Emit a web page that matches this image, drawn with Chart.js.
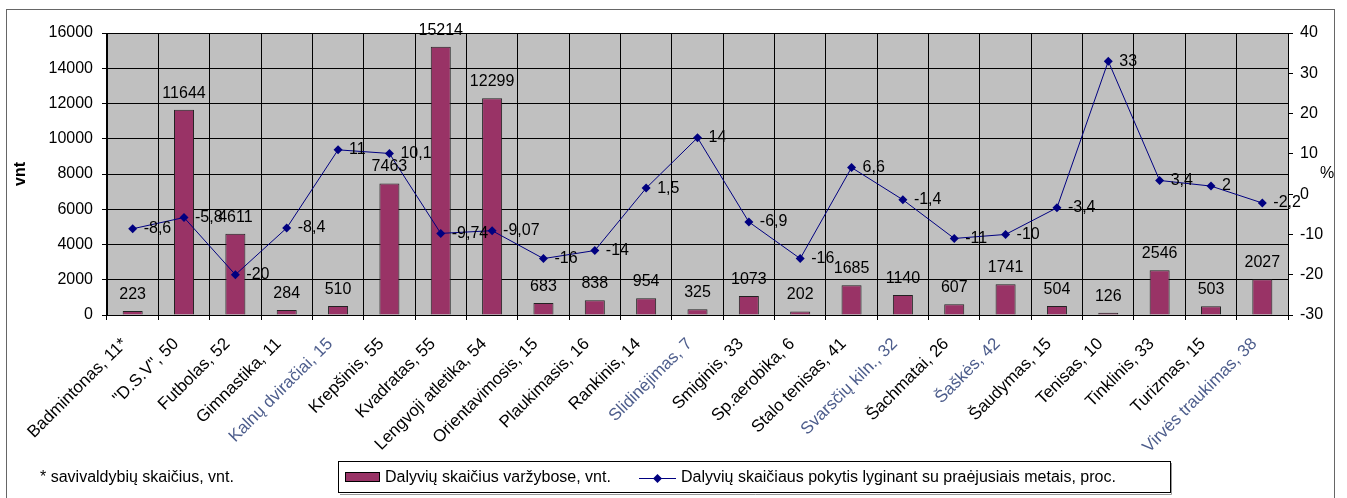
<!DOCTYPE html>
<html>
<head>
<meta charset="utf-8">
<script src="https://cdn.jsdelivr.net/npm/chart.js@4.4.0/dist/chart.umd.min.js"></script>
<style>
  body { margin: 0; background: #fff; }
  #wrap { width: 1347px; height: 498px; }
</style>
</head>
<body>
<div id="wrap"><canvas id="myChart" width="1347" height="498"></canvas></div>
<script>
// Duomenys
const kategorijos = [
  'Badmintonas, 11*', '"D.S.V", 50', 'Futbolas, 52', 'Gimnastika, 11', 'Kalnų dviračiai, 15',
  'Krepšinis, 55', 'Kvadratas, 55', 'Lengvoji atletika, 54', 'Orientavimosis, 15', 'Plaukimasis, 16',
  'Rankinis, 14', 'Slidinėjimas, 7', 'Smiginis, 33', 'Sp.aerobika, 6', 'Stalo tenisas, 41',
  'Svarsčių kiln., 32', 'Šachmatai, 26', 'Šaškės, 42', 'Šaudymas, 15', 'Tenisas, 10',
  'Tinklinis, 33', 'Turizmas, 15', 'Virvės traukimas, 38'
];
const dalyviai = [223, 11644, 4611, 284, 510, 7463, 15214, 12299, 683, 838, 954, 325, 1073, 202, 1685, 1140, 607, 1741, 504, 126, 2546, 503, 2027];
const pokytis = [-8.6, -5.8, -20, -8.4, 11, 10.1, -9.74, -9.07, -16, -14, 1.5, 14, -6.9, -16, 6.6, -1.4, -11, -10, -3.4, 33, 3.4, 2, -2.2];
// kategorijos, parasytos melsva spalva
const melsvos = ['Kalnų dviračiai, 15', 'Slidinėjimas, 7', 'Svarsčių kiln., 32', 'Šaškės, 42', 'Virvės traukimas, 38'];

const SRIFTAS = '"Liberation Sans", Arial, sans-serif';
Chart.defaults.font.family = SRIFTAS;
Chart.defaults.font.size = 16;
Chart.defaults.color = '#000';

// pilkas fonas ir remelis
const fonas = {
  id: 'fonas',
  beforeDraw(chart) {
    const { ctx, chartArea: a } = chart;
    ctx.save();
    ctx.fillStyle = '#c0c0c0';
    ctx.fillRect(a.left, a.top, a.right - a.left, a.bottom - a.top);
    ctx.strokeStyle = '#666';
    ctx.lineWidth = 1;
    ctx.strokeRect(6.5, 9.5, 1328, 495);
    ctx.restore();
  }
};

// reiksmiu uzrasai
const reiksmes = {
  id: 'reiksmes',
  afterDatasetsDraw(chart) {
    const ctx = chart.ctx;
    ctx.save();
    ctx.font = '16px ' + SRIFTAS;
    ctx.fillStyle = '#000';
    ctx.textAlign = 'center';
    ctx.textBaseline = 'alphabetic';
    chart.getDatasetMeta(0).data.forEach((bar, i) => {
      ctx.fillText(String(dalyviai[i]), bar.x, bar.y - 12);
    });
    ctx.textAlign = 'left';
    ctx.textBaseline = 'middle';
    chart.getDatasetMeta(1).data.forEach((pt, i) => {
      ctx.fillText(String(pokytis[i]).replace('.', ','), pt.x + 11, pt.y);
    });
    ctx.restore();
  }
};

// legenda, pastaba ir % zenklas
const legenda = {
  id: 'legenda',
  afterDraw(chart) {
    const ctx = chart.ctx;
    ctx.save();
    // seselis
    ctx.strokeStyle = '#999';
    ctx.lineWidth = 1;
    ctx.beginPath();
    ctx.moveTo(340, 494.5); ctx.lineTo(1171.5, 494.5); ctx.lineTo(1171.5, 463);
    ctx.stroke();
    ctx.strokeStyle = '#000';
    ctx.strokeRect(338.5, 461.5, 832, 31);

    ctx.fillStyle = '#993366';
    ctx.fillRect(345, 472, 35, 10);
    ctx.strokeRect(345.5, 472.5, 34, 9);

    ctx.font = '16px ' + SRIFTAS;
    ctx.fillStyle = '#000';
    ctx.textBaseline = 'middle';
    ctx.textAlign = 'left';
    ctx.fillText(chart.data.datasets[0].label, 385, 478);

    ctx.strokeStyle = '#000080';
    ctx.beginPath();
    ctx.moveTo(639, 478.5); ctx.lineTo(676, 478.5);
    ctx.stroke();
    ctx.fillStyle = '#000080';
    ctx.beginPath();
    ctx.moveTo(657.5, 474); ctx.lineTo(662, 478.5); ctx.lineTo(657.5, 483); ctx.lineTo(653, 478.5);
    ctx.closePath();
    ctx.fill();

    ctx.fillStyle = '#000';
    ctx.fillText(chart.data.datasets[1].label, 681, 478);

    ctx.fillText('* savivaldybių skaičius, vnt.', 40, 478);
    ctx.fillText('%', 1320, 174);
    ctx.restore();
  }
};

const config = {
  type: 'bar',
  data: {
    labels: kategorijos,
    datasets: [{
      type: 'bar',
      label: 'Dalyvių skaičius varžybose, vnt.',
      data: dalyviai,
      backgroundColor: '#993366',
      borderColor: '#222',
      borderWidth: 1,
      barPercentage: 0.39,
      categoryPercentage: 1,
      yAxisID: 'y',
      order: 2
    }, {
      type: 'line',
      label: 'Dalyvių skaičiaus pokytis lyginant su praėjusiais metais, proc.',
      data: pokytis,
      borderColor: '#000080',
      backgroundColor: '#000080',
      borderWidth: 1,
      pointStyle: 'rectRot',
      pointRadius: 4.5,
      pointBorderWidth: 0,
      tension: 0,
      yAxisID: 'y1',
      order: 1
    }]
  },
  options: {
    responsive: false,
    animation: false,
    layout: { padding: { top: 33, left: 0, right: 0, bottom: 0 } },
    plugins: {
      legend: { display: false },
      tooltip: { enabled: false }
    },
    scales: {
      x: {
        grid: { color: '#000', tickLength: 5, offset: true },
        border: { color: '#000' },
        ticks: {
          autoSkip: false,
          maxRotation: 45,
          minRotation: 45,
          padding: 14,
          labelOffset: -8,
          font: { size: 17 },
          color: c => melsvos.includes(kategorijos[c.index]) ? '#4d5d8c' : '#000'
        },
        afterFit(s) { s.height = 183; }
      },
      y: {
        position: 'left',
        min: 0,
        max: 16000,
        ticks: { stepSize: 2000, padding: 9, callback: v => String(v) },
        grid: { color: '#000', tickLength: 5 },
        border: { color: '#000' },
        title: { display: true, text: 'vnt', font: { size: 16, weight: 'bold' }, padding: { top: 11, bottom: 0 } },
        afterFit(s) { s.width = 107; }
      },
      y1: {
        position: 'right',
        min: -30,
        max: 40,
        ticks: { stepSize: 10, padding: 7 },
        grid: { drawOnChartArea: false, color: '#000', tickLength: 5 },
        border: { color: '#000' },
        afterFit(s) { s.width = 59; }
      }
    }
  },
  plugins: [fonas, reiksmes, legenda]
};

const myChart = new Chart(document.getElementById('myChart'), config);
</script>
</body>
</html>
